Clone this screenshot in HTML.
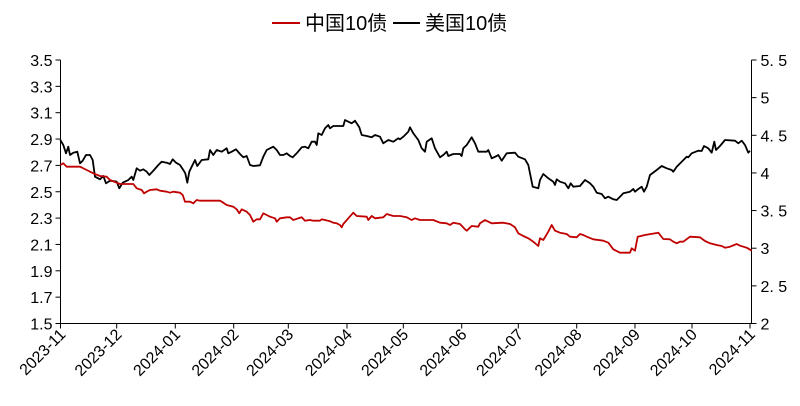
<!DOCTYPE html>
<html><head><meta charset="utf-8"><style>
html,body{margin:0;padding:0;background:#fff;}
svg{display:block;font-family:"Liberation Sans","Noto Sans CJK SC",sans-serif;}
</style></head><body>
<svg id="s" width="800" height="406" viewBox="0 0 800 406">
<line x1="272" y1="23" x2="300" y2="23" stroke="#c00000" stroke-width="2"/>
<text x="305" y="30" font-size="20" fill="#000">中国10债</text>
<line x1="393" y1="23" x2="420" y2="23" stroke="#000" stroke-width="2"/>
<text x="425" y="30" font-size="20" fill="#000">美国10债</text>
<g id="ax" stroke="#000" stroke-width="1" fill="none"></g>
<g id="lbl" font-size="16" fill="#000"></g>
<polyline id="blk" fill="none" stroke="#000" stroke-width="1.8" stroke-linejoin="round"/>
<polyline id="red" fill="none" stroke="#c00000" stroke-width="1.8" stroke-linejoin="round"/>
</svg>
<script>
var NS="http://www.w3.org/2000/svg";
function el(p,t,a,txt){var e=document.createElementNS(NS,t);for(var k in a)e.setAttribute(k,a[k]);if(txt)e.textContent=txt;p.appendChild(e);return e;}
var ax=document.getElementById('ax'),lb=document.getElementById('lbl');
var L=60.5,R=751.5,T=60,B=323.5;
el(ax,'line',{x1:L,y1:T,x2:L,y2:B});el(ax,'line',{x1:R,y1:T,x2:R,y2:B});el(ax,'line',{x1:L,y1:B,x2:R,y2:B});
for(var i=0;i<=10;i++){var y=T+(B-T)*i/10;el(ax,'line',{x1:L-5,y1:y,x2:L,y2:y});
el(lb,'text',{x:L-8,y:y+6,'text-anchor':'end'},(3.5-0.2*i).toFixed(1));}
var rl=['5. 5','5','4. 5','4','3. 5','3','2. 5','2'];
for(var i=0;i<=7;i++){var y=T+(B-T)*i/7;el(ax,'line',{x1:R,y1:y,x2:R+5,y2:y});el(lb,'text',{x:R+9,y:y+6},rl[i]);}
var xs=[60.5,116.7,175.3,233.7,288.3,347,403.3,461.7,518.3,576.7,635,692,750];
var ms=['2023-11','2023-12','2024-01','2024-02','2024-03','2024-04','2024-05','2024-06','2024-07','2024-08','2024-09','2024-10','2024-11'];
for(var i=0;i<xs.length;i++){el(ax,'line',{x1:xs[i],y1:B,x2:xs[i],y2:B+5});
el(lb,'text',{x:0,y:0,'text-anchor':'end',transform:'translate('+(xs[i]+6)+','+(B+12)+') rotate(-45)'},ms[i]);}
function pts(a,b){var o=[];for(var i=0;i<a.length;i+=2)o.push((a[i]/3).toFixed(1)+','+(40+a[i+1]/3).toFixed(1));
for(var i=0;i<b.length;i+=2)o.push((400+b[i]/3).toFixed(1)+','+(40+b[i+1]/3).toFixed(1));return o.join(' ');}
var b1=[181,300,190,315,198,340,205,320,210,345,220,338,232,335,240,370,248,362,258,345,270,345,278,360,285,410,300,418,310,408,318,430,330,422,350,425,358,445,368,428,385,420,395,410,400,420,410,385,420,392,430,388,440,395,448,405,462,390,475,375,485,365,500,368,510,372,518,358,528,368,540,375,550,390,556,400,562,428,568,395,575,380,585,360,592,378,605,360,625,358,630,330,640,345,650,330,665,335,680,325,685,340,695,335,708,328,720,342,730,352,740,348,750,375,760,378,780,376,790,350,800,330,810,325,820,320,830,330,840,345,850,345,860,340,870,348,878,352,890,340,905,322,915,320,925,325,935,305,945,305,950,315,955,280,965,285,975,265,985,255,990,265,1000,258,1030,258,1035,240,1045,245,1055,250,1065,242,1078,262,1085,285,1100,288,1115,292,1125,285,1140,290,1150,310,1165,300,1180,305,1195,295];
var b2=[0,298,10,290,25,275,30,262,40,280,55,300,65,325,75,335,80,305,95,295,105,325,120,352,130,345,140,335,145,348,160,342,180,342,185,348,190,325,200,315,215,292,225,310,235,335,260,335,265,330,275,355,290,348,295,345,305,362,320,340,345,338,355,350,375,358,385,375,390,400,398,440,415,445,420,420,430,402,445,415,460,425,465,435,470,418,480,425,495,430,505,445,512,430,520,440,540,438,555,420,570,430,580,440,590,458,605,462,615,475,625,470,640,478,650,480,660,470,670,460,690,455,700,447,705,455,715,447,725,440,732,455,740,440,750,405,770,390,785,378,800,385,815,390,820,395,830,380,845,365,860,350,865,352,875,340,895,332,905,333,912,318,925,325,935,338,943,305,948,330,960,318,975,300,1005,302,1015,310,1025,302,1035,315,1045,338,1050,332];
var r1=[181,375,190,370,200,380,220,380,240,380,260,390,280,400,300,408,320,410,330,420,350,428,360,432,400,432,410,445,425,450,432,460,440,455,450,450,470,448,480,452,500,455,510,458,520,455,540,458,548,465,555,485,570,485,580,490,590,480,600,482,660,482,670,488,680,495,700,500,710,508,718,520,725,508,740,515,750,525,760,545,770,538,780,538,790,520,800,525,810,530,825,535,830,545,840,535,860,532,870,532,880,540,895,535,905,532,915,542,930,540,940,542,960,542,965,538,990,544,1000,548,1010,550,1020,555,1025,562,1030,552,1045,535,1060,518,1070,528,1100,530,1105,540,1115,528,1125,535,1150,532,1160,522,1180,528];
var r2=[0,528,20,532,35,540,45,535,60,540,100,540,120,548,140,550,150,555,160,548,180,552,195,568,200,572,215,558,235,560,240,550,255,540,265,545,275,550,310,548,330,552,345,562,355,580,370,588,385,595,400,605,415,618,420,595,430,600,445,575,455,555,465,572,480,578,500,582,510,590,530,592,540,582,550,585,560,590,580,598,610,602,625,608,640,628,660,638,690,638,695,625,705,632,713,590,735,585,775,578,790,597,810,598,820,605,830,610,840,605,850,605,870,590,900,592,915,603,930,610,950,615,965,618,975,623,990,620,1010,612,1020,617,1030,620,1040,623,1055,632];
document.getElementById('blk').setAttribute('points',pts(b1,b2));
document.getElementById('red').setAttribute('points',pts(r1,r2));
</script>
</body></html>
